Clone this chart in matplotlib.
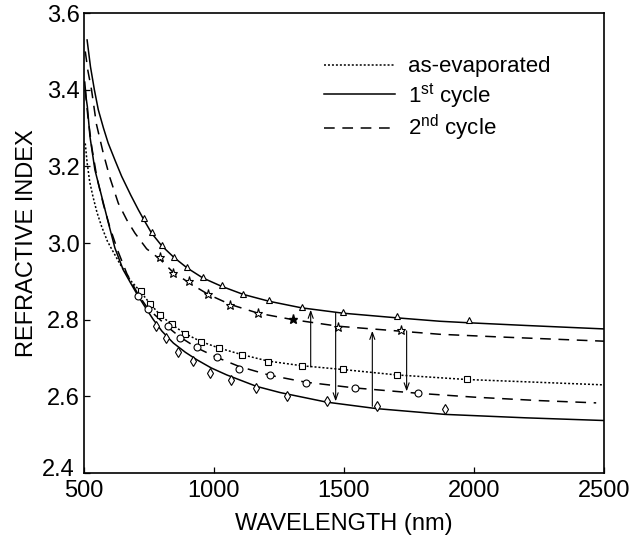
import numpy as np
import matplotlib
matplotlib.use('Agg')
import matplotlib.pyplot as plt
from matplotlib.transforms import ScaledTranslation

plt.rcParams['font.family'] = ['Liberation Sans', 'DejaVu Sans']
plt.rcParams['mathtext.fontset'] = 'custom'
plt.rcParams['mathtext.rm'] = 'Liberation Sans'

# --- curves (wavelength nm, refractive index) ---
up1_x = [512, 525, 540, 555, 575, 593, 620, 645, 680, 709, 731, 760, 799, 847, 897, 957,
         1030, 1113, 1213, 1337, 1497, 1702, 1869, 1981, 2200, 2500]
up1_y = [3.53, 3.46, 3.40, 3.348, 3.30, 3.261, 3.215, 3.174, 3.125, 3.087, 3.060, 3.026,
         2.993, 2.962, 2.935, 2.909, 2.887, 2.866, 2.848, 2.831, 2.817, 2.805, 2.796, 2.792,
         2.785, 2.776]

up2_x = [505, 515, 529, 548, 574, 600, 632, 665, 696, 741, 792, 841, 905, 978, 1062, 1170,
         1305, 1478, 1719, 1869, 2100, 2500]
up2_y = [3.50, 3.45, 3.40, 3.31, 3.235, 3.17, 3.104, 3.06, 3.026, 2.985, 2.958, 2.925,
         2.896, 2.866, 2.840, 2.817, 2.800, 2.783, 2.770, 2.762, 2.755, 2.744]

evap_x = [505, 512, 522, 535, 550, 568, 590, 606, 638, 677, 719, 754, 792, 837, 888, 950,
          1020, 1107, 1209, 1337, 1497, 1702, 1972, 2200, 2500]
evap_y = [3.26, 3.21, 3.16, 3.12, 3.08, 3.043, 3.005, 2.985, 2.946, 2.904, 2.872, 2.842,
          2.813, 2.788, 2.764, 2.743, 2.726, 2.709, 2.692, 2.680, 2.670, 2.656, 2.644,
          2.638, 2.630]

lo1_x = [503, 508, 513, 523, 542, 568, 593, 619, 651, 680, 709, 740, 767, 800, 844, 890,
         933, 990, 1049, 1164, 1254, 1433, 1626, 1888, 2200, 2500]
lo1_y = [3.42, 3.38, 3.356, 3.278, 3.191, 3.122, 3.055, 2.987, 2.930, 2.895, 2.861, 2.828,
         2.800, 2.770, 2.739, 2.715, 2.696, 2.674, 2.656, 2.626, 2.610, 2.585, 2.568, 2.553,
         2.544, 2.537]

lo2_x = [505, 515, 530, 550, 575, 600, 630, 665, 709, 747, 785, 824, 869, 936, 1010, 1097,
         1215, 1353, 1542, 1786, 2000, 2250, 2470]
lo2_y = [3.40, 3.33, 3.25, 3.17, 3.10, 3.04, 2.98, 2.92, 2.865, 2.828, 2.805, 2.780, 2.755,
         2.726, 2.702, 2.678, 2.655, 2.637, 2.622, 2.608, 2.598, 2.589, 2.583]

# --- measured points ---
tri_x = [731, 760, 799, 847, 897, 957, 1030, 1113, 1213, 1337, 1497, 1702, 1981]
tri_y = [3.065, 3.030, 2.995, 2.964, 2.937, 2.911, 2.891, 2.868, 2.851, 2.833, 2.819, 2.809, 2.800]
star_x = [792, 841, 905, 978, 1062, 1170, 1478, 1719]
star_y = [2.963, 2.923, 2.900, 2.868, 2.839, 2.817, 2.781, 2.772]
star_fill_x = [1305]
star_fill_y = [2.802]
sq_x = [719, 754, 792, 837, 888, 950, 1020, 1107, 1209, 1337, 1497, 1702, 1972]
sq_y = [2.874, 2.842, 2.813, 2.789, 2.763, 2.743, 2.726, 2.709, 2.690, 2.680, 2.671, 2.656, 2.645]
circ_x = [709, 747, 824, 869, 936, 1010, 1097, 1215, 1353, 1542, 1786]
circ_y = [2.863, 2.828, 2.784, 2.752, 2.728, 2.704, 2.672, 2.656, 2.636, 2.622, 2.609]
dia_x = [777, 815, 863, 920, 985, 1065, 1162, 1282, 1433, 1626, 1888]
dia_y = [2.784, 2.752, 2.717, 2.691, 2.662, 2.643, 2.621, 2.602, 2.587, 2.574, 2.567]

# --- vertical arrows ---
arr_x = [1372, 1468, 1609, 1741]
arr_from = [2.677, 2.818, 2.574, 2.771]
arr_to = [2.826, 2.587, 2.771, 2.613]

fig = plt.figure(figsize=(6.3, 5.36), dpi=100)
ax = fig.add_axes([0.1333, 0.1175, 0.8254, 0.858])

dash = (7, 5)
dot = (1.3, 1.3)
ax.plot(evap_x, evap_y, color='black', lw=1.1, dashes=dot, label='as-evaporated')
ax.plot(up1_x, up1_y, color='black', lw=1.1, label=r'1$^{\mathrm{st}}$ cycle')
ax.plot(up2_x, up2_y, color='black', lw=1.1, dashes=dash, label=r'2$^{\mathrm{nd}}$ cycle')
ax.plot(lo1_x, lo1_y, color='black', lw=1.1)
ax.plot(lo2_x, lo2_y, color='black', lw=1.1, dashes=dash)

mk = dict(ls='none', mfc='white', mec='black', mew=0.8)
ax.plot(tri_x, tri_y, marker='^', ms=5, **mk)
ax.plot(star_x, star_y, marker='*', ms=6.5, **mk)
ax.plot(star_fill_x, star_fill_y, marker='*', ms=6.5, ls='none', color='black')
ax.plot(sq_x, sq_y, marker='s', ms=4.5, **mk)
ax.plot(circ_x, circ_y, marker='o', ms=5, **mk)
ax.plot(dia_x, dia_y, marker='d', ms=5, **mk)

for x, y0, y1 in zip(arr_x, arr_from, arr_to):
    ax.annotate('', xy=(x, y1), xytext=(x, y0),
                arrowprops=dict(arrowstyle='->,head_length=0.5,head_width=0.18',
                                color='black', lw=0.8, shrinkA=0, shrinkB=0))

ax.set_xlim(500, 2500)
ax.set_ylim(2.4, 3.6)
ax.set_xticks([500, 1000, 1500, 2000, 2500])
ax.set_yticks([2.4, 2.6, 2.8, 3.0, 3.2, 3.4, 3.6])
ax.tick_params(direction='in', length=4, width=0.9, labelsize=17, top=False, right=False)
ax.tick_params(axis='y', pad=3)
ax.tick_params(axis='x', pad=5)
for s in ax.spines.values():
    s.set_linewidth(1.2)

# the lowest y label sits a little higher in the original
low = ax.yaxis.get_major_ticks()[0].label1
low.set_transform(low.get_transform() + ScaledTranslation(-4 / 72, 4 / 72, fig.dpi_scale_trans))

ax.set_xlabel('WAVELENGTH (nm)', fontsize=17, labelpad=8)
ax.set_ylabel('REFRACTIVE INDEX', fontsize=17)
ax.yaxis.set_label_coords(-0.088, 0.5)

ax.legend(loc='upper left', bbox_to_anchor=(0.44, 0.93), frameon=False, fontsize=16,
          handlelength=3.2, handletextpad=0.6, labelspacing=0.15, borderpad=0)

fig.savefig('out.png', dpi=100)
